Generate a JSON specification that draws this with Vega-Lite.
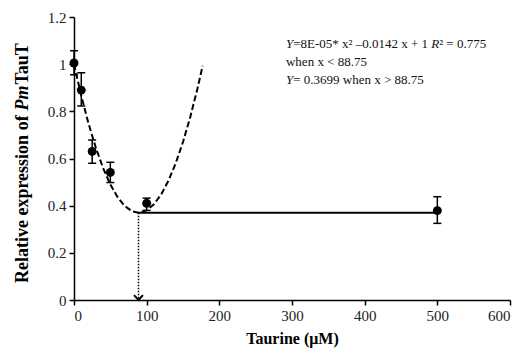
{
  "$schema": "https://vega.github.io/schema/vega-lite/v6.json",
  "width": 436,
  "height": 283,
  "autosize": "none",
  "padding": {"left": 74, "top": 17, "right": 20, "bottom": 53},
  "background": "white",
  "config": {
    "view": {"stroke": null},
    "font": "Liberation Serif",
    "axis": {
      "grid": false,
      "domainColor": "black",
      "domainWidth": 1.5,
      "tickColor": "black",
      "tickWidth": 1.5,
      "tickSize": 5,
      "labelFont": "Liberation Serif",
      "labelFontSize": 15,
      "labelColor": "#222",
      "labelPadding": 3,
      "titleFont": "Liberation Serif",
      "titleFontSize": 16,
      "titleFontWeight": "bold",
      "titleColor": "black"
    }
  },
  "datasets": {
    "curve": [
      {"x": 0, "y": 1.0}, {"x": 10, "y": 0.866}, {"x": 20, "y": 0.748}, {"x": 30, "y": 0.646},
      {"x": 40, "y": 0.56}, {"x": 50, "y": 0.49}, {"x": 60, "y": 0.436}, {"x": 70, "y": 0.398},
      {"x": 80, "y": 0.376}, {"x": 88.75, "y": 0.37}, {"x": 100, "y": 0.38}, {"x": 110, "y": 0.406},
      {"x": 120, "y": 0.448}, {"x": 130, "y": 0.506}, {"x": 140, "y": 0.58}, {"x": 150, "y": 0.67},
      {"x": 160, "y": 0.776}, {"x": 170, "y": 0.898}, {"x": 177, "y": 0.993}
    ],
    "obs": [
      {"x": 0, "y": 1.005, "lo": 0.955, "hi": 1.057},
      {"x": 10, "y": 0.89, "lo": 0.823, "hi": 0.964},
      {"x": 25, "y": 0.63, "lo": 0.58, "hi": 0.678},
      {"x": 50, "y": 0.541, "lo": 0.498, "hi": 0.584},
      {"x": 100, "y": 0.41, "lo": 0.38, "hi": 0.432},
      {"x": 500, "y": 0.379, "lo": 0.325, "hi": 0.438}
    ],
    "plateau": [{"x": 88.75, "x2": 500, "y": 0.3699, "y0": 0}],
    "noteRegular": [
      {"t": "=8E-05* x² –0.0142 x + 1", "x": 301.6, "y": 1.0855},
      {"t": "² = 0.775", "x": 502.6, "y": 1.0855},
      {"t": "when x < 88.75", "x": 291.7, "y": 1.0092},
      {"t": " = 0.3699 when x > 88.75", "x": 301.6, "y": 0.9329}
    ],
    "noteItalic": [
      {"t": "Y", "x": 291.7, "y": 1.0855},
      {"t": "R", "x": 491.7, "y": 1.0855},
      {"t": "Y", "x": 291.7, "y": 0.9329}
    ],
    "ytitleRegular": [
      {"t": "Relative expression of ", "x": -70, "y": 0.072},
      {"t": "TauT", "x": -70, "y": 0.9138}
    ],
    "ytitleItalic": [
      {"t": "Pm", "x": -70, "y": 0.8036}
    ]
  },
  "layer": [
    {
      "data": {"name": "curve"},
      "mark": {"type": "line", "color": "black", "strokeWidth": 2, "strokeDash": [6, 3]},
      "encoding": {
        "x": {"field": "x", "type": "quantitative", "scale": {"domain": [0, 600], "nice": false},
              "axis": {"values": [0, 100, 200, 300, 400, 500, 600], "title": "Taurine (μM)", "titlePadding": 7, "labelFont": "Liberation Serif"}},
        "y": {"field": "y", "type": "quantitative", "scale": {"domain": [0, 1.2], "nice": false},
              "axis": {"values": [0, 0.2, 0.4, 0.6, 0.8, 1, 1.2], "format": "~g", "title": null, "labelFont": "Liberation Serif"}}
      }
    },
    {
      "data": {"name": "plateau"},
      "mark": {"type": "rule", "color": "black", "strokeWidth": 2},
      "encoding": {
        "x": {"field": "x", "type": "quantitative"},
        "x2": {"field": "x2"},
        "y": {"field": "y", "type": "quantitative"}
      }
    },
    {
      "data": {"name": "plateau"},
      "mark": {"type": "rule", "color": "black", "strokeWidth": 1.5, "strokeDash": [1.5, 1.5]},
      "encoding": {
        "x": {"field": "x", "type": "quantitative"},
        "y": {"field": "y", "type": "quantitative"},
        "y2": {"field": "y0"}
      }
    },
    {
      "data": {"name": "plateau"},
      "mark": {"type": "point", "shape": "M-1,-1.1L0,0L1,-1.1", "filled": false, "stroke": "black", "strokeWidth": 2, "size": 80, "opacity": 1},
      "encoding": {
        "x": {"field": "x", "type": "quantitative"},
        "y": {"field": "y0", "type": "quantitative"}
      }
    },
    {
      "data": {"name": "obs"},
      "mark": {"type": "rule", "color": "black", "strokeWidth": 1.5},
      "encoding": {
        "x": {"field": "x", "type": "quantitative"},
        "y": {"field": "lo", "type": "quantitative"},
        "y2": {"field": "hi"}
      }
    },
    {
      "data": {"name": "obs"},
      "mark": {"type": "tick", "orient": "horizontal", "color": "black", "size": 8, "thickness": 1.5, "opacity": 1},
      "encoding": {
        "x": {"field": "x", "type": "quantitative"},
        "y": {"field": "hi", "type": "quantitative"}
      }
    },
    {
      "data": {"name": "obs"},
      "mark": {"type": "tick", "orient": "horizontal", "color": "black", "size": 8, "thickness": 1.5, "opacity": 1},
      "encoding": {
        "x": {"field": "x", "type": "quantitative"},
        "y": {"field": "lo", "type": "quantitative"}
      }
    },
    {
      "data": {"name": "obs"},
      "mark": {"type": "point", "filled": true, "color": "black", "size": 80, "opacity": 1},
      "encoding": {
        "x": {"field": "x", "type": "quantitative"},
        "y": {"field": "y", "type": "quantitative"}
      }
    },
    {
      "data": {"name": "noteRegular"},
      "mark": {"type": "text", "align": "left", "baseline": "middle", "font": "Liberation Serif", "fontSize": 13, "color": "#111"},
      "encoding": {
        "x": {"field": "x", "type": "quantitative"},
        "y": {"field": "y", "type": "quantitative"},
        "text": {"field": "t"}
      }
    },
    {
      "data": {"name": "noteItalic"},
      "mark": {"type": "text", "align": "left", "baseline": "middle", "font": "Liberation Serif", "fontSize": 13, "fontStyle": "italic", "color": "#111"},
      "encoding": {
        "x": {"field": "x", "type": "quantitative"},
        "y": {"field": "y", "type": "quantitative"},
        "text": {"field": "t"}
      }
    },
    {
      "data": {"name": "ytitleRegular"},
      "mark": {"type": "text", "align": "left", "baseline": "middle", "angle": 270, "font": "Liberation Serif", "fontSize": 18, "fontWeight": "bold", "color": "black"},
      "encoding": {
        "x": {"field": "x", "type": "quantitative"},
        "y": {"field": "y", "type": "quantitative"},
        "text": {"field": "t"}
      }
    },
    {
      "data": {"name": "ytitleItalic"},
      "mark": {"type": "text", "align": "left", "baseline": "middle", "angle": 270, "font": "Liberation Serif", "fontSize": 18, "fontWeight": "bold", "fontStyle": "italic", "color": "black"},
      "encoding": {
        "x": {"field": "x", "type": "quantitative"},
        "y": {"field": "y", "type": "quantitative"},
        "text": {"field": "t"}
      }
    }
  ]
}
